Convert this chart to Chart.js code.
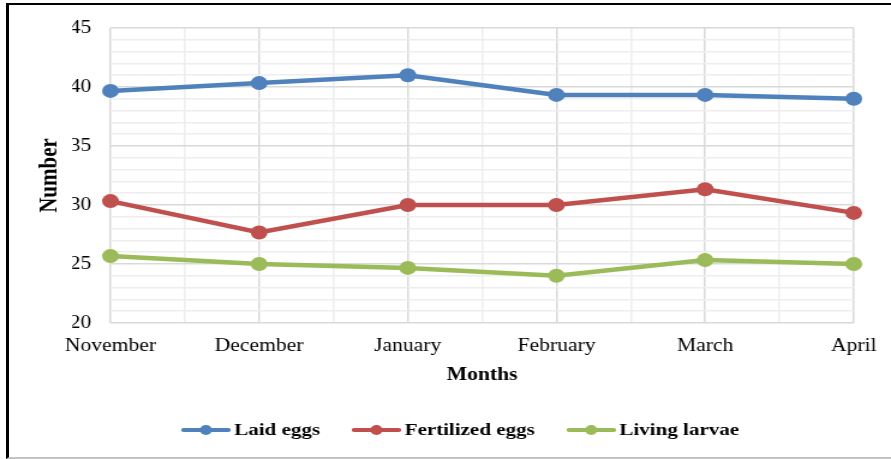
<!DOCTYPE html>
<html>
<head>
<meta charset="utf-8">
<script src="https://cdn.jsdelivr.net/npm/chart.js@4/dist/chart.umd.min.js"></script>
<style>
  html, body { margin: 0; padding: 0; background: #fff; overflow: hidden; }
  #wrap { position: relative; width: 891px; height: 459px; overflow: hidden; }
  /* the chart is laid out narrow and widened horizontally */
  #chart { position: absolute; left: 0; top: 0; transform-origin: 0 0; transform: scaleX(1.2008); }
  #frame {
    position: absolute; left: 6px; top: 3px; width: 920px; height: 456px;
    box-sizing: border-box; pointer-events: none;
    border-top: 2px solid #000; border-left: 3px solid #000; border-bottom: 2px solid #c4c4c4;
  }
</style>
</head>
<body>
<div id="wrap">
  <canvas id="chart" width="742" height="459"></canvas>
  <div id="frame"></div>
</div>
<script>
// Monthly counts
const months = ['November', 'December', 'January', 'February', 'March', 'April'];
const laidEggs = [39.67, 40.33, 41.0, 39.33, 39.33, 39.0];
const fertilizedEggs = [30.33, 27.67, 30.0, 30.0, 31.33, 29.33];
const livingLarvae = [25.67, 25.0, 24.67, 24.0, 25.33, 25.0];
const seriesNames = ['Laid eggs', 'Fertilized eggs', 'Living larvae'];
const yTicks = [20, 25, 30, 35, 40, 45];

const colors = ['#4f81bd', '#c0504d', '#9bbb59'];
const FONT = "'Liberation Serif', 'Times New Roman', serif";
const MAJOR = '#d9d9d9';
const MINOR = '#eeeeee';

// legend marker: short line with a dot in the middle
function legendMarker(color) {
  const c = document.createElement('canvas');
  c.width = 41; c.height = 12;
  const g = c.getContext('2d');
  g.strokeStyle = color; g.lineWidth = 4.2; g.lineCap = 'round';
  g.beginPath(); g.moveTo(2, 6); g.lineTo(39, 6); g.stroke();
  g.fillStyle = color;
  g.beginPath(); g.arc(20.5, 6, 5, 0, Math.PI * 2); g.fill();
  return c;
}
const markers = colors.map(legendMarker);

function series(label, data, color) {
  return {
    label, data,
    borderColor: color, backgroundColor: color,
    borderWidth: 4.5,
    pointRadius: 7, pointHoverRadius: 7,
    pointBackgroundColor: color, pointBorderColor: color, pointBorderWidth: 0,
    tension: 0
  };
}

Chart.defaults.font.family = FONT;
Chart.defaults.color = '#000';

new Chart(document.getElementById('chart'), {
  type: 'line',
  data: {
    labels: months,
    datasets: [
      series(seriesNames[0], laidEggs, colors[0]),
      series(seriesNames[1], fertilizedEggs, colors[1]),
      series(seriesNames[2], livingLarvae, colors[2])
    ]
  },
  options: {
    responsive: false,
    animation: false,
    devicePixelRatio: 1,
    layout: { padding: { left: 60.2, right: 30, top: 28, bottom: 10.25 } },
    plugins: {
      tooltip: { enabled: false },
      legend: {
        position: 'bottom',
        labels: {
          usePointStyle: true,
          pointStyleWidth: 29.5,
          padding: 32.25,
          font: { size: 17.5, weight: 'bold', family: FONT },
          color: '#000',
          generateLabels(chart) {
            const items = Chart.defaults.plugins.legend.labels.generateLabels(chart);
            items.forEach((it, i) => { it.pointStyle = markers[i]; });
            return items;
          }
        }
      }
    },
    scales: {
      x: {
        type: 'category',
        offset: false,
        grid: { display: false, drawTicks: false },
        border: { display: false },
        ticks: { padding: 12, font: { size: 18, family: FONT }, color: '#000', maxRotation: 0, autoSkip: false },
        title: { display: true, text: 'Months', font: { size: 18, weight: 'bold', family: FONT }, color: '#000', padding: { top: 0, bottom: 3.2 } },
        afterFit(scale) { scale.height = 66; }
      },
      xg: {
        type: 'linear',
        position: 'bottom',
        min: 0, max: months.length - 1,
        ticks: { display: false, stepSize: 0.5 },
        grid: {
          drawTicks: false, lineWidth: 1.5,
          color: (ctx) => Math.abs(ctx.tick.value - Math.round(ctx.tick.value)) < 1e-6 ? MAJOR : MINOR
        },
        border: { display: false },
        afterFit(scale) { scale.height = 0; }
      },
      y: {
        min: yTicks[0], max: yTicks[yTicks.length - 1],
        grid: {
          drawTicks: false, lineWidth: 1.5,
          color: (ctx) => yTicks.includes(ctx.tick.value) ? MAJOR : MINOR
        },
        border: { display: false },
        ticks: {
          stepSize: 1, maxTicksLimit: 100, autoSkip: false, padding: 16,
          font: { size: 18, family: FONT }, color: '#000',
          callback: (v) => yTicks.includes(v) ? String(v) : ''
        },
        title: { display: true, text: 'Number', font: { size: 21, weight: 'bold', family: FONT }, color: '#000', padding: { top: -31.2, bottom: 0 } },
        afterFit(scale) { scale.width = 31.8; }
      }
    }
  }
});
</script>
</body>
</html>
